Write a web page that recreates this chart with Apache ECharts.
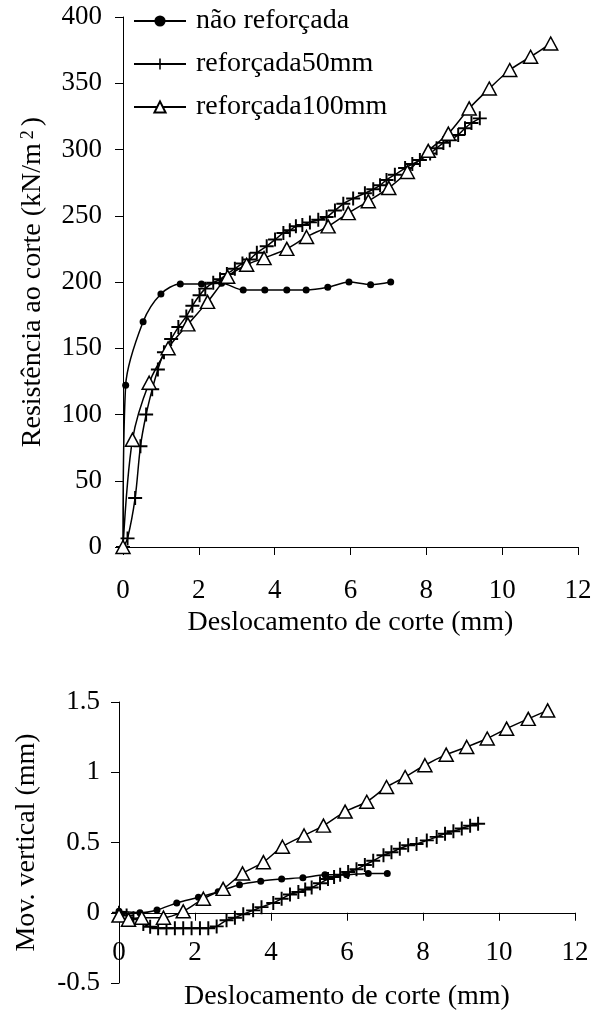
<!DOCTYPE html>
<html><head><meta charset="utf-8">
<script src="https://cdn.jsdelivr.net/npm/echarts@6/dist/echarts.min.js"></script>
<style>html,body{margin:0;padding:0;background:#fff}#c{width:592px;height:1013px}</style>
</head><body><div id="c"></div><script>
const seriesNames = ['não reforçada', 'reforçada50mm', 'reforçada100mm'];
const xTitle = 'Deslocamento de corte (mm)';
const yTitleTop = 'Resistência ao corte (kN/m';
const yTitleBottom = 'Mov. vertical (mm)';

// Top chart: shear resistance (kN/m2) vs shear displacement (mm)
const shearNR = [[0,0],[0.07,122],[0.53,170],[1.0,191],[1.51,198.5],[2.07,198.5],[2.6,199],[3.17,194],[3.74,194],[4.32,194],[4.83,194],[5.40,196],[5.96,200],[6.53,198],[7.06,200]];
const shear50 = [[0,0],[0.12,6.5],[0.32,37],[0.46,76],[0.61,100],[0.77,119],[0.92,134],[1.08,147],[1.27,157],[1.46,166],[1.67,174],[1.83,182],[2.02,190],[2.17,195],[2.38,199.5],[2.56,202],[2.74,206],[2.95,210],[3.15,214],[3.34,217],[3.53,222],[3.79,227],[4.01,232],[4.23,237],[4.40,239],[4.56,242],[4.73,243],[4.93,245],[5.15,247],[5.37,249],[5.59,254],[5.81,259],[6.07,263],[6.38,267],[6.60,270],[6.78,273],[6.95,277],[7.17,281],[7.44,286],[7.63,289],[7.83,292],[8.10,297],[8.27,301],[8.45,305],[8.62,307],[8.84,311],[9.02,316],[9.19,320],[9.41,323.5]];
const shear100 = [[0,0],[0.25,81],[0.69,124],[1.19,150],[1.71,168],[2.23,185],[2.76,204],[3.26,213],[3.72,218],[4.32,225],[4.84,234],[5.41,242],[5.94,252],[6.47,261],[7.01,271],[7.50,283],[8.05,299],[8.58,312],[9.13,331],[9.66,346],[10.2,360],[10.75,370],[11.28,380]];

// Bottom chart: vertical movement (mm) vs shear displacement (mm)
const vertNR = [[0,0.01],[0.55,0],[1.0,0.02],[1.52,0.07],[2.09,0.11],[2.61,0.15],[3.17,0.2],[3.73,0.225],[4.28,0.24],[4.84,0.25],[5.42,0.27],[5.99,0.27],[6.56,0.28],[7.06,0.28]];
const vert50 = [[0,0],[0.2,-0.02],[0.38,-0.04],[0.64,-0.08],[0.82,-0.10],[1.03,-0.11],[1.25,-0.11],[1.47,-0.11],[1.69,-0.11],[1.91,-0.11],[2.13,-0.11],[2.35,-0.11],[2.57,-0.097],[2.83,-0.054],[3.05,-0.035],[3.27,-0.01],[3.53,0.017],[3.75,0.04],[4.06,0.07],[4.28,0.1],[4.5,0.13],[4.72,0.147],[4.90,0.165],[5.07,0.18],[5.29,0.21],[5.5,0.24],[5.66,0.255],[5.82,0.27],[6.03,0.29],[6.25,0.31],[6.47,0.34],[6.69,0.37],[6.96,0.41],[7.17,0.43],[7.39,0.456],[7.61,0.48],[7.83,0.49],[8.10,0.515],[8.36,0.54],[8.58,0.563],[8.8,0.58],[9.02,0.6],[9.24,0.62],[9.45,0.634]];
const vert100 = [[0,-0.02],[0.25,-0.05],[0.6,-0.035],[1.17,-0.035],[1.69,0.01],[2.22,0.1],[2.74,0.17],[3.25,0.28],[3.8,0.36],[4.3,0.47],[4.87,0.55],[5.38,0.62],[5.95,0.72],[6.52,0.79],[7.04,0.895],[7.53,0.966],[8.05,1.05],[8.61,1.125],[9.15,1.18],[9.69,1.24],[10.2,1.31],[10.77,1.38],[11.28,1.44]];

const FONT = 'Liberation Serif';
const plusPath = 'path://M-0.14,-1 H0.14 V-0.14 H1 V0.14 H0.14 V1 H-0.14 V0.14 H-1 V-0.14 H-0.14 Z';
const styles = [
  {symbol: 'circle', symbolSize: 7, itemStyle: {color: '#000'}},
  {symbol: plusPath, symbolSize: 14, itemStyle: {color: '#000'}},
  {symbol: 'triangle', symbolSize: [14, 13], itemStyle: {color: '#fff', borderColor: '#000', borderWidth: 1.5}}
];
function mk(name, data, idx, g) {
  return Object.assign({
    name: name, type: 'line', data: data, xAxisIndex: g, yAxisIndex: g,
    smooth: 0.3, showAllSymbol: true,
    lineStyle: {color: '#000', width: 1.5}, z: 2 + idx
  }, styles[idx]);
}
const axisCommon = {
  axisLine: {show: true, lineStyle: {color: '#000', width: 1}},
  axisTick: {show: true, length: 8, lineStyle: {color: '#000'}},
  splitLine: {show: false},
  axisLabel: {color: '#000', fontFamily: FONT, fontSize: 27},
  nameTextStyle: {color: '#000', fontFamily: FONT, fontSize: 28}
};
const chart = echarts.init(document.getElementById('c'));
chart.setOption({
  animation: false,
  backgroundColor: '#fff',
  grid: [
    {left: 123, right: 14, top: 17, bottom: 466, containLabel: false, outerBoundsMode: 'none'},
    {left: 119, right: 17, top: 702, bottom: 30, containLabel: false, outerBoundsMode: 'none'}
  ],
  legend: {
    data: seriesNames, orient: 'vertical', left: 128, top: 2,
    itemWidth: 52, itemHeight: 14, itemGap: 15,
    textStyle: {color: '#000', fontFamily: FONT, fontSize: 28, lineHeight: 28, padding: [0, 0, 0, 5]}
  },
  xAxis: [
    Object.assign({}, axisCommon, {gridIndex: 0, type: 'value', min: 0, max: 12, interval: 2,
      name: xTitle, nameLocation: 'middle', nameGap: 60,
      axisLabel: Object.assign({}, axisCommon.axisLabel, {margin: 30})}),
    Object.assign({}, axisCommon, {gridIndex: 1, type: 'value', min: 0, max: 12, interval: 2,
      name: xTitle, nameLocation: 'middle', nameGap: 0,
      axisLine: {show: true, onZero: true, lineStyle: {color: '#000', width: 1}},
      axisLabel: Object.assign({}, axisCommon.axisLabel, {margin: -44})})
  ],
  yAxis: [
    Object.assign({}, axisCommon, {gridIndex: 0, type: 'value', min: 0, max: 400, interval: 50,
      name: '{a|' + yTitleTop + '}{s|2}{a|)}', nameLocation: 'middle', nameGap: 76,
      nameTextStyle: {color: '#000', fontFamily: FONT, fontSize: 28,
        rich: {a: {fontFamily: FONT, fontSize: 28, color: '#000'}, s: {fontFamily: FONT, fontSize: 18, color: '#000', verticalAlign: 'top', padding: [0, 4, 10, 4]}}},
      axisLabel: Object.assign({}, axisCommon.axisLabel, {margin: 21})}),
    Object.assign({}, axisCommon, {gridIndex: 1, type: 'value', min: -0.5, max: 1.5, interval: 0.5,
      name: yTitleBottom, nameLocation: 'middle', nameGap: 78,
      axisLabel: Object.assign({}, axisCommon.axisLabel, {margin: 19})})
  ],
  series: [
    mk(seriesNames[0], shearNR, 0, 0),
    mk(seriesNames[1], shear50, 1, 0),
    mk(seriesNames[2], shear100, 2, 0),
    mk(seriesNames[0], vertNR, 0, 1),
    mk(seriesNames[1], vert50, 1, 1),
    mk(seriesNames[2], vert100, 2, 1)
  ]
});
</script></body></html>
